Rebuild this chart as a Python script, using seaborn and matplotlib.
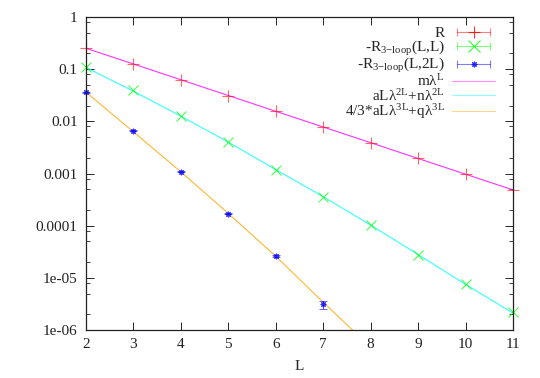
import matplotlib

matplotlib.use("Agg")
import matplotlib.pyplot as plt
import seaborn as sns
from matplotlib.legend_handler import HandlerLine2D, HandlerTuple
from matplotlib.lines import Line2D
from matplotlib.ticker import FixedLocator, FixedFormatter, LogLocator, NullFormatter

# --- data ---
L = [2, 3, 4, 5, 6, 7, 8, 9, 10, 11]
R = [0.25, 0.125, 0.0625, 0.0312, 0.0156, 0.0078, 0.0039, 0.00195, 0.00098, 0.00049]
R3_LL = [0.112, 0.0394, 0.0127, 0.0041, 0.00118, 0.00036, 0.000104, 2.8e-5, 7.6e-6, 2.2e-6]
L_2L = [2, 3, 4, 5, 6, 7]
R3_L2L = [0.036, 0.0066, 0.00108, 0.00017, 2.6e-5, 3.1e-6]
R3_L2L_err = [0.0004, 0.0002, 0.00003, 5e-6, 1e-6, 0.55e-6]

fit_m = [0.252, 0.126, 0.0628, 0.0313, 0.0156, 0.0078, 0.0039, 0.00194, 0.00097, 0.000484]
fit_an = [0.108, 0.038, 0.0126, 0.0040, 0.00119, 0.00036, 0.000103, 2.8e-5, 7.5e-6, 2.1e-6]
L_fit3 = [2, 3, 4, 5, 6, 7, 8]
fit_aq = [0.0365, 0.0063, 0.00108, 0.000172, 2.6e-5, 3.4e-6, 4.7e-7]

y_ticks = [1e-6, 1e-5, 1e-4, 1e-3, 1e-2, 1e-1, 1]
y_labels = ["1e-06", "1e-05", "0.0001", "0.001", "0.01", "0.1", "1"]

labels = [
    "R",
    r"-R$_{\mathrm{3\mathrm{-}loop}}$(L,L)",
    r"-R$_{\mathrm{3\mathrm{-}loop}}$(L,2L)",
    r"m$\mathrm{\lambda}^{\mathrm{L}}$",
    r"aL$\mathrm{\lambda}^{\mathrm{2L}}$+n$\mathrm{\lambda}^{\mathrm{2L}}$",
    r"4/3*aL$\mathrm{\lambda}^{\mathrm{3L}}$+q$\mathrm{\lambda}^{\mathrm{3L}}$",
]

sns.set_style("ticks")
plt.rcParams.update({
    "font.family": ["Liberation Serif", "DejaVu Serif"],
    "mathtext.fontset": "custom",
    "mathtext.rm": "Liberation Serif",
    "mathtext.it": "Liberation Serif:italic",
    "font.size": 11,
    "xtick.direction": "in",
    "ytick.direction": "in",
    "xtick.top": True,
    "ytick.right": True,
    "xtick.color": "#222222",
    "ytick.color": "#222222",
})

fig = plt.figure(figsize=(5.4, 3.78), dpi=100)
ax = fig.add_axes([0.159, 0.127, 0.791, 0.828])

RED, GREEN, BLUE = "#ff0000", "#00ff00", "#0000ff"
MAG, CYAN, ORANGE = "#ff00ff", "#00ffff", "#ffa500"

# fit lines
sns.lineplot(x=L, y=fit_m, ax=ax, color=MAG, lw=0.8, alpha=0.8)
sns.lineplot(x=L, y=fit_an, ax=ax, color=CYAN, lw=0.8, alpha=0.8)
sns.lineplot(x=L_fit3, y=fit_aq, ax=ax, color=ORANGE, lw=0.8, alpha=0.8)

# data points
ax.errorbar(L, R, yerr=[0] * len(L), fmt="+", color=RED, ms=8, mew=0.8,
            alpha=0.6, capsize=0, clip_on=False)
ax.errorbar(L, R3_LL, yerr=[0] * len(L), fmt="x", color=GREEN, ms=7, mew=0.8,
            alpha=0.7, capsize=0, clip_on=False)
ax.errorbar(L_2L, R3_L2L, yerr=R3_L2L_err, fmt="none", ecolor=BLUE, elinewidth=0.7,
            capsize=3, capthick=0.7, alpha=0.6, clip_on=False)
ax.plot(L_2L, R3_L2L, ls="none", marker=(8, 2, 0), color=BLUE, ms=4, mew=0.8,
        alpha=0.8, clip_on=False)

ax.set_yscale("log")
ax.set_xlim(2, 11)
ax.set_ylim(1e-6, 1)
ax.set_xticks(L)
ax.yaxis.set_major_locator(FixedLocator(y_ticks))
ax.yaxis.set_major_formatter(FixedFormatter(y_labels))
ax.yaxis.set_minor_locator(LogLocator(base=10, subs=[2, 5, 8]))
ax.yaxis.set_minor_formatter(NullFormatter())
ax.tick_params(which="major", length=6, width=0.7, pad=6)
ax.tick_params(which="minor", length=3, width=0.6)
for s in ax.spines.values():
    s.set_visible(True)
    s.set_linewidth(0.9)
    s.set_color("#222222")
ax.set_xlabel("L", labelpad=6)

# gnuplot-style legend samples: horizontal bar with end caps + point
def cap_handle(color, marker, ms):
    bar = Line2D([0], [0], color=color, lw=0.8, marker="|", ms=6, mew=0.8, alpha=0.5)
    pt = Line2D([0], [0], color=color, ls="none", marker=marker, ms=ms, mew=0.8, alpha=0.8)
    return (bar, pt)

h_r = cap_handle(RED, "+", 9)
h_g = cap_handle(GREEN, "x", 8)
h_b = cap_handle(BLUE, (8, 2, 0), 4)
h_m = Line2D([0], [0], color=MAG, lw=0.8, alpha=0.45)
h_c = Line2D([0], [0], color=CYAN, lw=0.8, alpha=0.45)
h_o = Line2D([0], [0], color=ORANGE, lw=0.8, alpha=0.45)

hmap = {tuple: HandlerTuple(ndivide=1, pad=0)}
for h in (h_r, h_g, h_b):
    hmap[h[0]] = HandlerLine2D(numpoints=2)
    hmap[h[1]] = HandlerLine2D(numpoints=1)

ax.legend([h_r, h_g, h_b, h_m, h_c, h_o], labels, handler_map=hmap,
          loc="upper right", bbox_to_anchor=(0.958, 0.97), frameon=False,
          markerfirst=False, handlelength=2.8, handletextpad=0.5,
          labelspacing=-0.1, borderpad=0, borderaxespad=0, fontsize=11)
for t in ax.get_legend().get_texts():
    t.set_ha("right")

fig.savefig("out.png", dpi=100)
